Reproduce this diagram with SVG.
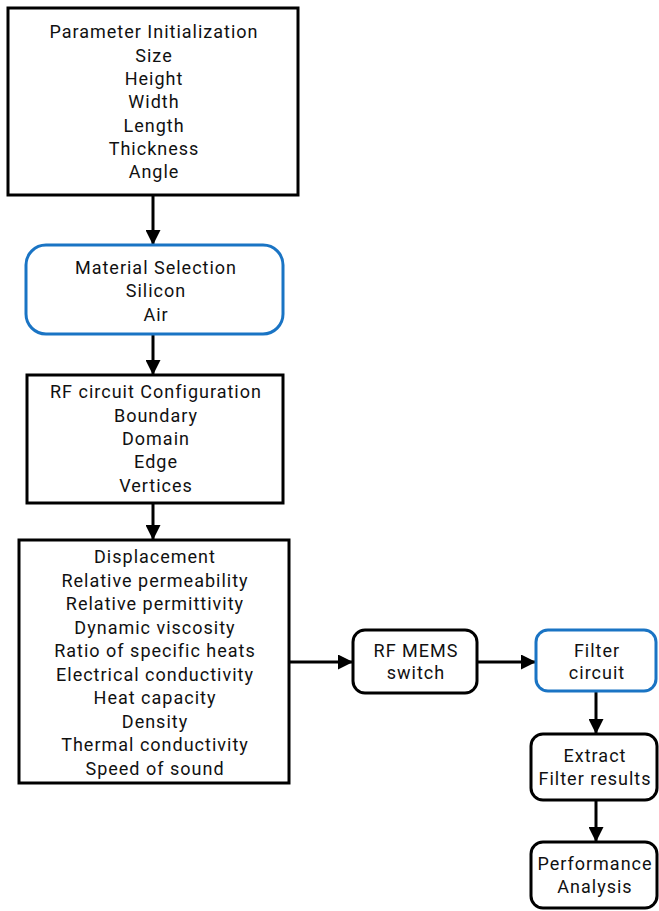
<svg xmlns="http://www.w3.org/2000/svg" width="659" height="911" viewBox="0 0 659 911">
<defs>
<style>
.box{fill:#fff;stroke:#000;stroke-width:3}
.blue{fill:#fff;stroke:#1a74c4;stroke-width:3}
text{font-family:Roboto,"Liberation Sans",sans-serif;font-size:18px;letter-spacing:1px;fill:#111;text-anchor:middle}
.c{stroke:#000;stroke-width:3;fill:none;marker-end:url(#ah)}
</style>
<marker id="ah" markerWidth="5" markerHeight="5" refX="5" refY="2.5" orient="auto" markerUnits="strokeWidth">
<path d="M0,0 L5,2.5 L0,5 Z" fill="#000"/>
</marker>
</defs>
<rect width="659" height="911" fill="#fff"/>
<g id="connectors">
<line class="c" x1="153" y1="195" x2="153" y2="245"/>
<line class="c" x1="153" y1="334" x2="153" y2="375"/>
<line class="c" x1="153" y1="503" x2="153" y2="540"/>
<line class="c" x1="289" y1="662" x2="353" y2="662"/>
<line class="c" x1="477" y1="662" x2="536" y2="662"/>
<line class="c" x1="596" y1="691" x2="596" y2="734"/>
<line class="c" x1="596" y1="800" x2="596" y2="842"/>
</g>
<g id="param">
<rect class="box" x="8" y="8" width="290" height="187"/>
<text x="154" y="38">Parameter Initialization</text>
<text x="154" y="62">Size</text>
<text x="154" y="85">Height</text>
<text x="154" y="108">Width</text>
<text x="154" y="132">Length</text>
<text x="154" y="155">Thickness</text>
<text x="154" y="178">Angle</text>
</g>
<g id="material">
<rect class="blue" x="26" y="245" width="257" height="89" rx="20"/>
<text x="156" y="274">Material Selection</text>
<text x="156" y="297">Silicon</text>
<text x="156" y="321">Air</text>
</g>
<g id="rfconfig">
<rect class="box" x="27" y="375" width="256" height="128"/>
<text x="156" y="398">RF circuit Configuration</text>
<text x="156" y="422">Boundary</text>
<text x="156" y="445">Domain</text>
<text x="156" y="468">Edge</text>
<text x="156" y="492">Vertices</text>
</g>
<g id="props">
<rect class="box" x="19" y="540" width="270" height="243"/>
<text x="155" y="563">Displacement</text>
<text x="155" y="587">Relative permeability</text>
<text x="155" y="610">Relative permittivity</text>
<text x="155" y="634">Dynamic viscosity</text>
<text x="155" y="657">Ratio of specific heats</text>
<text x="155" y="681">Electrical conductivity</text>
<text x="155" y="704">Heat capacity</text>
<text x="155" y="728">Density</text>
<text x="155" y="751">Thermal conductivity</text>
<text x="155" y="775">Speed of sound</text>
</g>
<g id="mems">
<rect class="box" x="353" y="630" width="124" height="63" rx="12"/>
<text x="416" y="657">RF MEMS</text>
<text x="416" y="679">switch</text>
</g>
<g id="filter">
<rect class="blue" x="536" y="630" width="120" height="61" rx="12"/>
<text x="597" y="657">Filter</text>
<text x="597" y="679">circuit</text>
</g>
<g id="extract">
<rect class="box" x="531" y="734" width="126" height="66" rx="12"/>
<text x="595" y="762">Extract</text>
<text x="595" y="785">Filter results</text>
</g>
<g id="perf">
<rect class="box" x="531" y="842" width="126" height="66" rx="12"/>
<text x="595" y="870">Performance</text>
<text x="595" y="893">Analysis</text>
</g>
</svg>
